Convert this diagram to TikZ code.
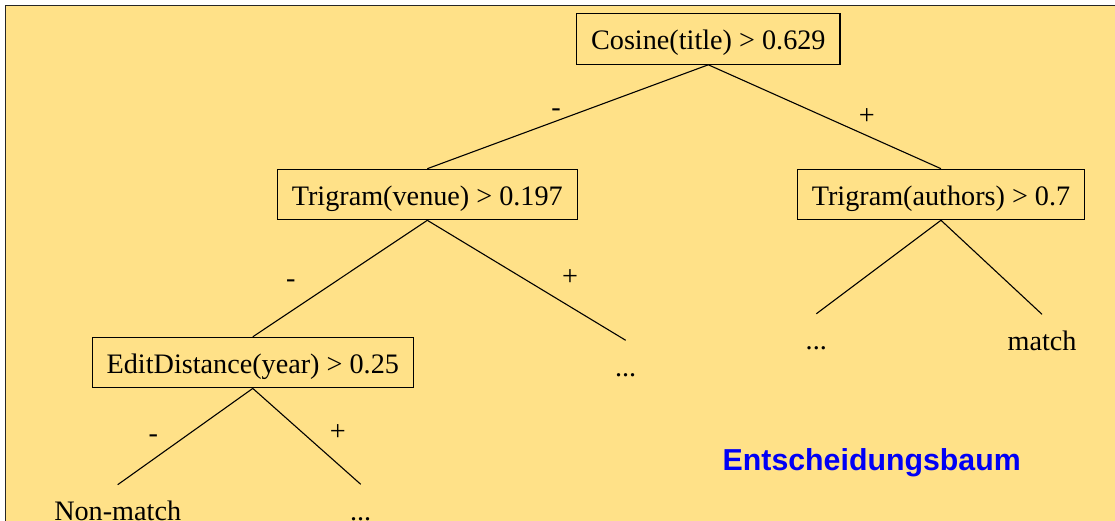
\documentclass[tikz,border=0pt]{standalone}
\usepackage{fontspec}
\setmainfont{Liberation Serif}
\newfontfamily\labelsans{Liberation Sans}
\definecolor{bgyellow}{RGB}{255,225,136}
\definecolor{titleblue}{RGB}{0,0,245}
\begin{document}
\begin{tikzpicture}[x=1pt,y=-1pt,
  every node/.style={font=\fontsize{28.2}{34}\selectfont, text=black},
  testbox/.style={draw, line width=1.2pt, inner xsep=14.4pt, inner ysep=0pt,
    minimum height=50.4pt, text height=22pt, text depth=0pt},
  leaf/.style={inner sep=0pt, text height=35.5pt, text depth=0pt, anchor=base},
  sign/.style={inner sep=0pt, anchor=base},
  branch/.style={line width=1.1pt}]
\useasboundingbox (0,0) rectangle (1115,521);
% background and frame
\fill[white] (0,0) rectangle (1115,521);
\fill[bgyellow] (5.5,5.5) rectangle (1115,521);
\draw[black!85, line width=1.7pt] (5.4,521) -- (5.4,5.4) -- (1115,5.4);
% decision nodes
\node[testbox] (cos) at (708.3,39) {Cosine(title) > 0.629};
\node[testbox] (ven) at (427.3,194.5) {Trigram(venue) > 0.197};
\node[testbox] (aut) at (941,194.5) {Trigram(authors) > 0.7};
\node[testbox] (edit) at (252.8,362.6) {EditDistance(year) > 0.25};
% leaves
\node[leaf] (venplus) at (625.7,376) {...};
\node[leaf] (autminus) at (816.3,349.5) {...};
\node[leaf] (match) at (1042,350) {match};
\node[leaf] (nonmatch) at (117.7,520.4) {Non-match};
\node[leaf] (editplus) at (360.7,520) {...};
% branches
\draw[branch] (cos.south) -- (ven.north);
\draw[branch] (cos.south) -- (aut.north);
\draw[branch] (ven.south) -- (edit.north);
\draw[branch] (ven.south) -- (venplus.north);
\draw[branch] (aut.south) -- (autminus.north);
\draw[branch] (aut.south) -- (match.north);
\draw[branch] (edit.south) -- (nonmatch.north);
\draw[branch] (edit.south) -- (editplus.north);
% branch signs
\node[sign] (s1) at (556,116.3) {-};
\node[sign] (s2) at (866.7,124.8) {+};
\node[sign] (s3) at (290.7,287) {-};
\node[sign] (s4) at (570,285.1) {+};
\node[sign] (s5) at (153.3,442) {-};
\node[sign] (s6) at (337.7,440.4) {+};
% caption
\node[anchor=base, inner sep=0pt, text=titleblue,
  font=\labelsans\bfseries\fontsize{30.3}{36}\selectfont] (caption) at (871.7,470) {Entscheidungsbaum};
\end{tikzpicture}
\end{document}
